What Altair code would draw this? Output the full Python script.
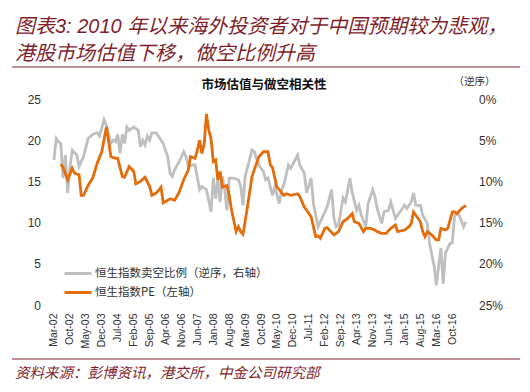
import altair as alt
import pandas as pd

# ---------------- data ----------------
pe_dates = [
    "2002-06", "2002-07", "2002-09", "2002-11", "2002-12", "2003-02", "2003-03", "2003-04",
    "2003-06", "2003-08", "2003-10", "2003-12", "2004-02", "2004-04", "2004-06", "2004-07",
    "2004-09", "2004-10", "2004-12", "2005-02", "2005-03", "2005-05", "2005-07", "2005-09",
    "2005-10", "2005-12", "2006-02", "2006-03", "2006-05", "2006-06", "2006-08", "2006-10",
    "2006-12", "2007-02", "2007-03", "2007-05", "2007-06", "2007-07", "2007-08", "2007-09",
    "2007-10", "2007-11", "2007-12", "2008-01", "2008-02", "2008-03", "2008-04", "2008-05",
    "2008-07", "2008-08", "2008-09", "2008-11", "2008-12", "2009-01", "2009-02", "2009-04",
    "2009-06", "2009-07", "2009-09", "2009-11", "2010-01", "2010-02", "2010-03", "2010-05",
    "2010-06", "2010-08", "2010-09", "2010-11", "2011-02", "2011-03", "2011-05", "2011-06",
    "2011-08", "2011-10", "2011-11", "2011-12", "2012-02", "2012-03", "2012-06", "2012-08",
    "2012-10", "2012-12", "2013-02", "2013-03", "2013-05", "2013-07", "2013-08", "2013-10",
    "2013-12", "2014-01", "2014-03", "2014-05", "2014-07", "2014-09", "2014-10", "2015-01",
    "2015-03", "2015-04", "2015-05", "2015-06", "2015-08", "2015-09", "2015-10", "2015-11",
    "2016-01", "2016-03", "2016-04", "2016-05", "2016-07", "2016-08", "2016-10", "2016-11",
    "2016-12", "2017-02", "2017-04",
]
pe_values = [
    17.1, 16.7, 15.2, 16.6, 16.0, 15.8, 13.3, 13.3,
    14.5, 15.4, 17.2, 18.6, 21.6, 18.0, 17.8, 17.8,
    15.6, 15.5, 16.8, 16.2, 14.7, 15.0, 15.5, 14.4,
    13.3, 13.6, 14.3, 12.4, 12.7, 12.9, 12.7, 13.7,
    15.2, 16.4, 18.0, 17.8, 18.8, 20.0, 18.4, 19.6,
    23.2, 21.2, 20.2, 17.4, 17.6, 15.2, 16.2, 14.3,
    14.5, 13.3, 11.5, 8.9, 9.5, 8.9, 8.6, 11.9,
    15.6, 16.4, 18.0, 18.6, 18.6, 17.0, 16.7, 14.3,
    14.0, 13.3, 13.5, 13.3, 13.5, 13.2, 11.9, 11.5,
    10.7, 8.3, 8.4, 8.1, 9.3, 9.4, 8.5, 8.9,
    10.1, 10.5, 11.1, 10.1, 9.9, 8.9, 9.3, 9.3,
    9.1, 8.9, 8.7, 8.7, 9.3, 9.7, 8.9, 9.1,
    9.5, 9.9, 11.3, 10.9, 10.1, 8.9, 8.3, 8.9,
    8.5, 7.9, 7.9, 9.3, 9.1, 9.3, 11.3, 11.3,
    11.1, 11.7, 12.1,
]

short_dates = [
    "2002-03", "2002-04", "2002-05", "2002-06", "2002-07", "2002-08", "2002-09", "2002-10",
    "2002-11", "2003-01", "2003-02", "2003-03", "2003-04", "2003-06", "2003-08", "2003-10",
    "2003-11", "2004-01", "2004-02", "2004-03", "2004-04", "2004-05", "2004-06", "2004-07",
    "2004-08", "2004-09", "2004-10", "2004-11", "2004-12", "2005-02", "2005-04", "2005-05",
    "2005-06", "2005-07", "2005-08", "2005-09", "2005-10", "2005-12", "2006-02", "2006-03",
    "2006-05", "2006-06", "2006-07", "2006-08", "2006-10", "2006-12", "2007-01", "2007-02",
    "2007-04", "2007-05", "2007-07", "2007-08", "2007-10", "2007-12", "2008-01", "2008-02",
    "2008-03", "2008-04", "2008-05", "2008-06", "2008-07", "2008-08", "2008-10", "2008-12",
    "2009-01", "2009-02", "2009-03", "2009-06", "2009-07", "2009-09", "2009-10", "2009-11",
    "2009-12", "2010-01", "2010-03", "2010-04", "2010-06", "2010-07", "2010-08", "2010-10",
    "2010-11", "2011-02", "2011-03", "2011-05", "2011-06", "2011-08", "2011-09", "2011-11",
    "2012-01", "2012-03", "2012-05", "2012-06", "2012-07", "2012-08", "2012-10", "2012-11",
    "2013-01", "2013-02", "2013-04", "2013-05", "2013-06", "2013-08", "2013-09", "2013-11",
    "2013-12", "2014-01", "2014-03", "2014-04", "2014-06", "2014-07", "2014-09", "2014-10",
    "2014-11", "2015-01", "2015-02", "2015-04", "2015-05", "2015-06", "2015-08", "2015-09",
    "2015-11", "2015-12", "2016-02", "2016-03", "2016-04", "2016-05", "2016-06", "2016-07",
    "2016-09", "2016-10", "2016-11", "2016-12", "2017-01", "2017-03", "2017-04",
]
short_values = [
    7.4, 4.8, 5.2, 5.4, 9.6, 6.8, 11.4, 8.4,
    6.2, 6.8, 8.2, 7.6, 7.0, 4.8, 4.3, 4.1,
    4.5, 2.5, 3.2, 4.3, 5.4, 5.0, 5.2, 4.3,
    6.6, 4.3, 5.4, 3.4, 3.8, 3.4, 3.8, 5.8,
    5.0, 5.6, 4.5, 5.0, 4.1, 4.1, 5.0, 5.4,
    7.0, 9.0, 9.4, 8.6, 7.6, 6.4, 7.0, 8.2,
    8.0, 8.0, 11.0, 10.6, 11.0, 13.7, 9.6, 12.1,
    9.6, 12.5, 9.4, 11.0, 13.5, 9.6, 9.6, 9.8,
    10.6, 12.9, 9.4, 6.2, 6.4, 8.0, 8.4, 8.8,
    9.8, 9.6, 11.7, 10.6, 12.7, 11.0, 10.4, 8.0,
    8.4, 6.8, 8.0, 9.0, 11.4, 9.6, 12.7, 15.5,
    14.3, 13.1, 11.0, 14.5, 15.5, 15.3, 12.0, 12.5,
    9.6, 11.4, 13.5, 12.9, 14.1, 15.5, 12.7, 11.0,
    11.8, 13.3, 15.1, 13.7, 13.5, 12.5, 14.5, 14.1,
    13.7, 12.9, 13.3, 12.5, 11.4, 12.9, 12.9, 14.1,
    15.1, 17.5, 20.3, 22.6, 20.3, 18.1, 22.4, 18.7,
    17.5, 17.5, 14.1, 13.9, 14.1, 15.5, 14.9,
]

tick_months = [
    "2002-03", "2002-10", "2003-05", "2003-12", "2004-07", "2005-02", "2005-09",
    "2006-04", "2006-11", "2007-06", "2008-01", "2008-08", "2009-03", "2009-10",
    "2010-05", "2010-12", "2011-07", "2012-02", "2012-09", "2013-04", "2013-11",
    "2014-06", "2015-01", "2015-08", "2016-03", "2016-10",
]
left_ticks = [0, 5, 10, 15, 20, 25]
right_ticks = [0, 5, 10, 15, 20, 25]

SHORT_NAME = "恒生指数卖空比例（逆序，右轴）"
PE_NAME = "恒生指数PE（左轴）"
TITLE_1 = "图表3: 2010 年以来海外投资者对于中国预期较为悲观，"
TITLE_2 = "港股市场估值下移，做空比例升高"
SUBTITLE = "市场估值与做空相关性"
REVERSE_NOTE = "（逆序）"
SOURCE = "资料来源：彭博资讯，港交所，中金公司研究部"

# ---------------- styling ----------------
RED = "#7F1F2C"
GRAY = "#BFBFBF"
ORANGE = "#E46C0A"
TXT = "#333333"
LATIN = "Liberation Sans, Noto Sans CJK SC"
CJK = "Noto Sans CJK SC"

W, H = 421, 206
PAD = {"left": 41.5, "top": 91, "right": 514 - 41.5 - W, "bottom": 376 - 91 - H}

df_pe = pd.DataFrame({"date": pd.to_datetime(pe_dates), "value": pe_values, "series": PE_NAME})
df_short = pd.DataFrame({"date": pd.to_datetime(short_dates), "value": short_values, "series": SHORT_NAME})


def dt(s):
    y, m = s.split("-")
    return alt.DateTime(year=int(y), month=int(m), date=1)


x_enc = alt.X(
    "date:T",
    scale=alt.Scale(domain=[dt("2002-01"), dt("2017-06")]),
    axis=alt.Axis(
        values=[dt(t) for t in tick_months], format="%b-%y", labelAngle=-90,
        ticks=False, domain=False, grid=False, labelOverlap=False,
        labelFont="Liberation Sans", labelFontSize=10.5, labelColor=TXT,
        labelPadding=8, title=None,
    ),
)

color_enc = alt.Color(
    "series:N",
    scale=alt.Scale(domain=[SHORT_NAME, PE_NAME], range=[GRAY, ORANGE]),
    legend=alt.Legend(
        orient="none", legendX=18, legendY=164, title=None, direction="vertical",
        symbolType="M-1.5,0H1.5", symbolSize=324, symbolStrokeWidth=3,
        labelFont=CJK, labelFontSize=11.5, labelColor=TXT, labelOffset=6.5,
        rowPadding=2, padding=0, labelLimit=400,
    ),
)

short_line = alt.Chart(df_short).mark_line(strokeWidth=2.8).encode(
    x=x_enc,
    y=alt.Y(
        "value:Q",
        scale=alt.Scale(domain=[0, 25], reverse=True, nice=False),
        axis=alt.Axis(
            orient="right", values=right_ticks, labelExpr="datum.value + '%'",
            ticks=False, domain=False, grid=False, title=None,
            labelFont="Liberation Sans", labelFontSize=12, labelColor=TXT, labelPadding=8,
        ),
    ),
    color=color_enc,
)

pe_line = alt.Chart(df_pe).mark_line(strokeWidth=2.8).encode(
    x=x_enc,
    y=alt.Y(
        "value:Q",
        scale=alt.Scale(domain=[0, 25], nice=False),
        axis=alt.Axis(
            orient="left", values=left_ticks, ticks=False, domain=False, grid=False,
            title=None, labelFont="Liberation Sans", labelFontSize=12, labelColor=TXT,
            labelPadding=9,
        ),
    ),
    color=color_enc,
)


def text_at(txt, x, y, **kw):
    return alt.Chart(pd.DataFrame({"t": [txt]})).mark_text(**kw).encode(
        x=alt.value(x), y=alt.value(y), text="t:N"
    )


def hline(y):
    return alt.Chart(pd.DataFrame({"a": [0]})).mark_rule(color=RED, strokeWidth=1).encode(
        x=alt.value(-37.5), x2=alt.value(470.5), y=alt.value(y)
    )


deco = [
    text_at(TITLE_1, -34.5, -66, align="left", baseline="alphabetic", font=LATIN,
            fontSize=20, fontStyle="italic", color=RED),
    text_at(TITLE_2, -34.5, -39, align="left", baseline="alphabetic", font=LATIN,
            fontSize=20, fontStyle="italic", color=RED),
    hline(-32),
    text_at(SUBTITLE, 214.5, -14, align="center", baseline="middle", font=CJK,
            fontSize=12.5, fontWeight="bold", color="#111111"),
    text_at(REVERSE_NOTE, 425, -17, align="center", baseline="middle", font=CJK,
            fontSize=10.5, color=TXT),
    hline(260),
    text_at(SOURCE, -34.5, 275, align="left", baseline="middle", font=CJK,
            fontSize=14.5, fontStyle="italic", color=RED),
]

chart = (
    alt.layer(short_line, pe_line, *deco)
    .resolve_scale(y="independent")
    .properties(width=W, height=H, padding=PAD, autosize=alt.AutoSizeParams(type="none"))
    .configure_view(stroke=None)
)

chart.save("out.html", embed_options={"renderer": "svg", "actions": False})
